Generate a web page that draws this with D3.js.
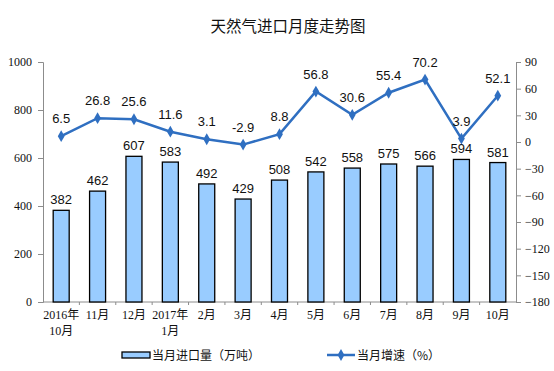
<!DOCTYPE html>
<html>
<head>
<meta charset="utf-8">
<script src="https://cdn.jsdelivr.net/npm/d3@7"></script>
<style>
  body { margin: 0; background: #fff; }
  svg { display: block; }
  .serif { font-family: "Liberation Serif", "Times New Roman", "Noto Sans CJK SC", serif; }
  .sans { font-family: "Liberation Sans", Arial, "Noto Sans CJK SC", sans-serif; }
</style>
</head>
<body>
<div class="canvas"></div>
<script>
const months = ['2016年|10月', '11月', '12月', '2017年|1月', '2月', '3月', '4月', '5月', '6月', '7月', '8月', '9月', '10月']
const imports = [382, 462, 607, 583, 492, 429, 508, 542, 558, 575, 566, 594, 581]
const growth = [6.5, 26.8, 25.6, 11.6, 3.1, -2.9, 8.8, 56.8, 30.6, 55.4, 70.2, 3.9, 52.1]
const leftTicks = [0, 200, 400, 600, 800, 1000]
const rightTicks = [90, 60, 30, 0, -30, -60, -90, -120, -150, -180]

const dims = { width: 554, height: 371 }
const plot = { left: 43, right: 516, top: 62, bottom: 302 }

const svg = d3.select('.canvas')
  .append('svg')
  .attr('width', dims.width)
  .attr('height', dims.height)

const x = d3.scaleBand()
  .domain(months)
  .range([plot.left, plot.right])

const yLeft = d3.scaleLinear().domain([0, 1000]).range([plot.bottom, plot.top])
const yRight = d3.scaleLinear().domain([-180, 90]).range([plot.bottom, plot.top])

const grey = '#8c8c8c'
const lineColor = '#2f6fc1'

// title
svg.append('text')
  .attr('x', 288).attr('y', 32)
  .attr('text-anchor', 'middle')
  .attr('font-family', '"Noto Sans CJK SC", sans-serif')
  .attr('font-size', 15.5)
  .attr('fill', '#111')
  .text('天然气进口月度走势图')

// left axis
const leftAxis = svg.append('g')
  .attr('transform', `translate(${plot.left},0)`)
  .call(d3.axisLeft(yLeft).tickValues(leftTicks).tickFormat(d3.format('d')).tickSize(5).tickPadding(6))
leftAxis.select('.domain').attr('stroke', grey)
leftAxis.selectAll('line').attr('stroke', grey)
leftAxis.selectAll('text')
  .attr('class', 'serif').attr('font-size', 12).attr('fill', '#111')

// right axis
const rightAxis = svg.append('g')
  .attr('transform', `translate(${plot.right},0)`)
  .call(d3.axisRight(yRight).tickValues(rightTicks).tickFormat(d3.format('d')).tickSize(5).tickPadding(4))
rightAxis.select('.domain').attr('stroke', grey)
rightAxis.selectAll('line').attr('stroke', grey)
rightAxis.selectAll('text')
  .attr('class', 'serif').attr('font-size', 12).attr('fill', '#111')

// bottom axis line with small ticks at band boundaries
svg.append('line')
  .attr('x1', plot.left).attr('x2', plot.right)
  .attr('y1', plot.bottom).attr('y2', plot.bottom)
  .attr('stroke', grey)
svg.selectAll('.xtick')
  .data(months.slice(1))
  .enter().append('line')
  .attr('x1', d => x(d)).attr('x2', d => x(d))
  .attr('y1', plot.bottom).attr('y2', plot.bottom + 3)
  .attr('stroke', grey)

// category labels
const xl = svg.selectAll('.xlabel')
  .data(months)
  .enter().append('text')
  .attr('class', 'serif')
  .attr('text-anchor', 'middle')
  .attr('font-size', 12)
  .attr('fill', '#111')
  .attr('transform', d => `translate(${x(d) + x.bandwidth() / 2},${plot.bottom + 17})`)
xl.selectAll('tspan')
  .data(d => d.split('|'))
  .enter().append('tspan')
  .attr('x', 0)
  .attr('dy', (d, i) => i ? 16 : 0)
  .text(d => d)

// bars
const barW = 16
svg.selectAll('.bar')
  .data(imports)
  .enter().append('rect')
  .attr('x', (d, i) => x(months[i]) + x.bandwidth() / 2 - barW / 2)
  .attr('y', d => yLeft(d))
  .attr('width', barW)
  .attr('height', d => plot.bottom - yLeft(d))
  .attr('fill', '#99ccff')
  .attr('stroke', '#000')
  .attr('stroke-width', 1.3)

svg.selectAll('.barlabel')
  .data(imports)
  .enter().append('text')
  .attr('class', 'sans')
  .attr('x', (d, i) => x(months[i]) + x.bandwidth() / 2)
  .attr('y', d => yLeft(d) - 6)
  .attr('text-anchor', 'middle')
  .attr('font-size', 13)
  .attr('fill', '#111')
  .text(d => d)

// growth line
const line = d3.line()
  .x((d, i) => x(months[i]) + x.bandwidth() / 2)
  .y(d => yRight(d))

svg.append('path')
  .datum(growth)
  .attr('d', line)
  .attr('fill', 'none')
  .attr('stroke', lineColor)
  .attr('stroke-width', 2.5)

const diamond = d3.symbol().type(d3.symbolDiamond).size(40)
svg.selectAll('.marker')
  .data(growth)
  .enter().append('path')
  .attr('d', diamond)
  .attr('transform', (d, i) => `translate(${x(months[i]) + x.bandwidth() / 2},${yRight(d)})`)
  .attr('fill', lineColor)

svg.selectAll('.linelabel')
  .data(growth)
  .enter().append('text')
  .attr('class', 'sans')
  .attr('x', (d, i) => x(months[i]) + x.bandwidth() / 2)
  .attr('y', d => yRight(d) - 13)
  .attr('text-anchor', 'middle')
  .attr('font-size', 13)
  .attr('fill', '#111')
  .text(d => d)

// legend
const legend = svg.append('g').attr('transform', 'translate(0,355)')
legend.append('rect')
  .attr('x', 122).attr('y', -3).attr('width', 28).attr('height', 6)
  .attr('fill', '#99ccff').attr('stroke', '#000').attr('stroke-width', 1.3)
legend.append('text')
  .attr('x', 152).attr('y', 5)
  .attr('font-family', '"Noto Sans CJK SC", sans-serif')
  .attr('font-size', 12).attr('fill', '#111')
  .text('当月进口量（万吨）')
legend.append('line')
  .attr('x1', 327).attr('x2', 355).attr('y1', 0).attr('y2', 0)
  .attr('stroke', lineColor).attr('stroke-width', 2.5)
legend.append('path')
  .attr('d', diamond)
  .attr('transform', 'translate(341,0)')
  .attr('fill', lineColor)
legend.append('text')
  .attr('x', 357).attr('y', 5)
  .attr('font-family', '"Noto Sans CJK SC", sans-serif')
  .attr('font-size', 12).attr('fill', '#111')
  .text('当月增速（%）')
</script>
</body>
</html>
